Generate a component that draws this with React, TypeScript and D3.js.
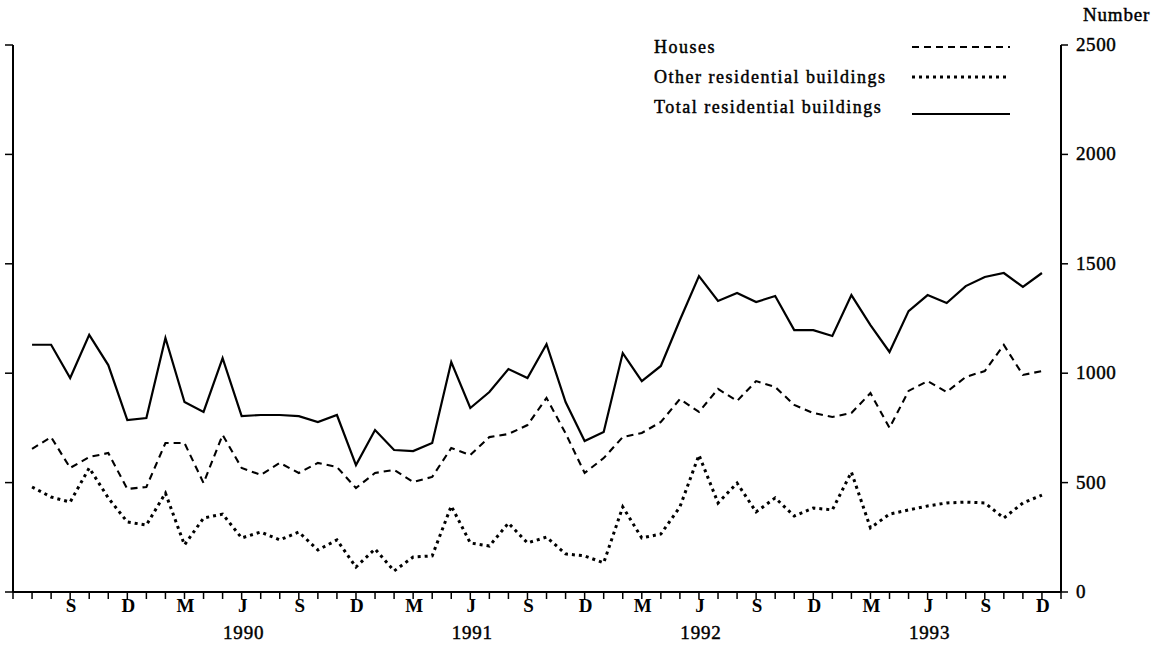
import React from "react";
import * as d3 from "d3";

// Monthly values, July 1989 .. December 1993
const houses = [
  654, 708, 567, 617, 635, 471, 480, 681, 681, 498, 718, 567,
  535, 590, 544, 590, 571, 475, 544, 558, 503, 526, 658, 626,
  708, 722, 763, 887, 725, 544, 612, 708, 727, 777, 882, 823,
  928, 873, 964, 937, 855, 818, 800, 818, 909, 750, 919, 964,
  914, 983, 1010, 1129, 992, 1010,
];
const otherRes = [
  480, 434, 411, 567, 430, 320, 306, 452, 215, 338, 356, 247,
  274, 238, 274, 192, 238, 114, 197, 96, 160, 165, 393, 224,
  210, 315, 224, 251, 174, 165, 133, 389, 247, 265, 389, 626,
  407, 498, 366, 430, 347, 384, 375, 548, 293, 356, 375, 393,
  407, 411, 407, 338, 407, 443,
];
const totalRes = [
  1130, 1130, 978, 1175, 1037, 786, 795, 1161, 868, 823, 1069, 804,
  809, 809, 804, 777, 809, 580, 740, 649, 644, 681, 1051, 841,
  914, 1019, 978, 1133, 868, 690, 731, 1092, 964, 1033, 1243, 1444,
  1330, 1367, 1325, 1353, 1197, 1197, 1170, 1357, 1220, 1097, 1284, 1357,
  1321, 1398, 1440, 1458, 1394, 1458,
];
const quarterLabels = ["S", "D", "M", "J", "S", "D", "M", "J", "S", "D", "M", "J", "S", "D", "M", "J", "S", "D"];
const yearLabels = ["1990", "1991", "1992", "1993"];
const yTicks = [0, 500, 1000, 1500, 2000, 2500];
const legendNames = ["Houses", "Other residential buildings", "Total residential buildings"];

const FONT = "'Liberation Serif', 'Times New Roman', serif";
const heavy = { stroke: "#000", strokeWidth: 0.45 };

export default function App() {
  const W = 1161, H = 666;
  // month index 0 = June 1989 (axis corner), 55 = January 1994 (right axis)
  const x = d3.scaleLinear().domain([0, 55]).range([13, 1061]);
  const y = d3.scaleLinear().domain([0, 2500]).range([592, 45]);
  const line = d3.line<number>().x((_, i) => x(i + 1)).y((d) => y(d));

  const series = [
    { name: legendNames[0], data: houses, dash: "7,5", width: 2.1 },
    { name: legendNames[1], data: otherRes, dash: "3,4", width: 3 },
    { name: legendNames[2], data: totalRes, dash: null, width: 2.2 },
  ];
  const monthTicks = d3.range(0, 56);
  const legendY = [47, 77, 107];

  return (
    <svg width={W} height={H} style={{ position: "absolute", left: 0, top: 0, background: "#fff" }}>
      <rect width={W} height={H} fill="#fff" />
      {/* axes */}
      <line x1={x(0)} x2={x(0)} y1={y(2500)} y2={y(0)} stroke="#000" strokeWidth={2} />
      <line x1={x(55)} x2={x(55)} y1={y(2500)} y2={y(0)} stroke="#000" strokeWidth={2} />
      <line x1={x(0)} x2={x(55)} y1={y(0)} y2={y(0)} stroke="#000" strokeWidth={2} />
      {yTicks.map((t) => (
        <g key={"yt" + t}>
          <line x1={x(0) - 8} x2={x(0)} y1={y(t)} y2={y(t)} stroke="#000" strokeWidth={1.5} />
          <line x1={x(55)} x2={x(55) + 7} y1={y(t)} y2={y(t)} stroke="#000" strokeWidth={1.5} />
          <text x={x(55) + 15} y={y(t) + 6} fontFamily={FONT} fontSize={19} letterSpacing={0.6} {...heavy}>{t}</text>
        </g>
      ))}
      <text x={1083} y={21} fontFamily={FONT} fontSize={19} letterSpacing={0.8} {...heavy}>Number</text>
      {monthTicks.map((m) => (
        <line key={"mt" + m} x1={x(m)} x2={x(m)} y1={y(0)} y2={y(0) + 7} stroke="#000" strokeWidth={1.5} />
      ))}
      {quarterLabels.map((l, i) => (
        <text key={"ql" + i} x={x(3 + 3 * i) + 1} y={612} textAnchor="middle" fontFamily={FONT} fontSize={19} fontWeight="bold">{l}</text>
      ))}
      {yearLabels.map((l, i) => (
        <text key={"yl" + i} x={x(12 + 12 * i) + 2} y={639} textAnchor="middle" fontFamily={FONT} fontSize={19} letterSpacing={0.8} {...heavy}>{l}</text>
      ))}
      {/* series */}
      {series.map((s) => (
        <path key={s.name} d={line(s.data) || ""} fill="none" stroke="#000" strokeWidth={s.width}
          strokeDasharray={s.dash || undefined} strokeLinejoin="miter" />
      ))}
      {/* legend */}
      {series.map((s, i) => (
        <g key={"lg" + i}>
          <text x={654} y={legendY[i] + 6} fontFamily={FONT} fontSize={18} letterSpacing={1.5} {...heavy}>{s.name}</text>
          <line x1={912} x2={1010} y1={legendY[i] + (i === 2 ? 7 : 0)} y2={legendY[i] + (i === 2 ? 7 : 0)} stroke="#000"
            strokeWidth={s.width} strokeDasharray={s.dash || undefined} />
        </g>
      ))}
    </svg>
  );
}
